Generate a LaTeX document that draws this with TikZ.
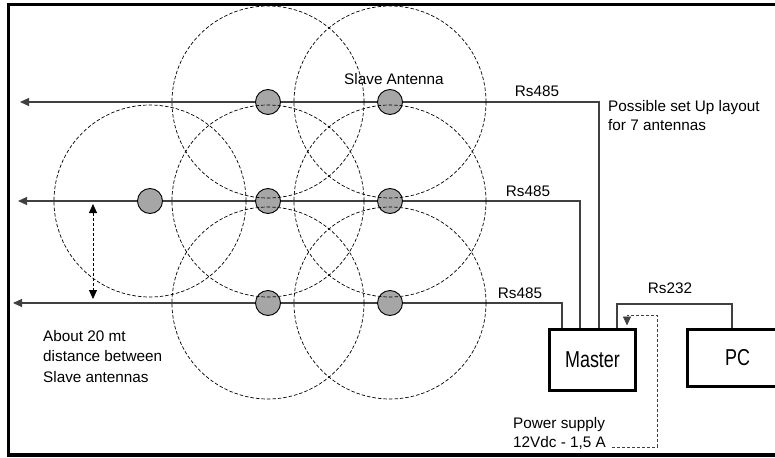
\documentclass[tikz,border=0pt]{standalone}
\usepackage{fontspec}
\setmainfont{Liberation Sans}
\newfontfamily\boxfont[FakeStretch=0.78]{Liberation Sans}
\usetikzlibrary{arrows.meta}
\definecolor{antgray}{HTML}{A6A6A6}
\definecolor{wire}{HTML}{404040}
\begin{document}
\begin{tikzpicture}[x=1pt,y=-1pt,
  antenna/.style={circle,draw=black,fill=antgray,line width=0.9pt,minimum size=25pt,inner sep=0pt},
  rangecircle/.style={draw=black,dash pattern=on 3.5pt off 2pt,line width=0.7pt},
  bus/.style={draw=wire,line width=1.1pt},
  tipend/.style={-{Triangle[length=9pt,width=8pt]}},
  tipboth/.style={{Triangle[length=9pt,width=8pt]}-{Triangle[length=9pt,width=8pt]}},
  devbox/.style={draw=black,line width=3pt,inner sep=0pt,font=\boxfont\fontsize{23}{24}\selectfont},
  lbl/.style={inner sep=0pt,font=\fontsize{15.3}{19}\selectfont},
  psline/.style={dash pattern=on 3pt off 2pt,line width=0.8pt}
]
\useasboundingbox (0,0) rectangle (775,457);
\clip (0,0) rectangle (775,457);
% frame
\draw[line width=3.5pt] (8.5,4.7) rectangle (790,455);

% antennas
\node[antenna] (a1) at (268,102) {};
\node[antenna] (a2) at (390,102) {};
\node[antenna] (a3) at (150,201) {};
\node[antenna] (a4) at (268,201) {};
\node[antenna] (a5) at (390,201) {};
\node[antenna] (a6) at (268,303) {};
\node[antenna] (a7) at (390,303) {};

% devices
\node[devbox,minimum width=86pt,minimum height=61pt] (master) at (592.5,359.5) {Master};
\node[devbox,minimum width=100pt,minimum height=57pt] (pc) at (737.5,358) {PC};

% free ends
\coordinate (e1) at (20,102);
\coordinate (e2) at (18,201);
\coordinate (e3) at (13,303);
\coordinate (d1) at (93,204);
\coordinate (d2) at (93,299);
\coordinate (ps) at (612,447);

% wires
\draw[bus,tipend] (599,0 |- master.north) |- (a2) -- (a1) -- (e1);
\draw[bus,tipend] (580,0 |- master.north) |- (a5) -- (a4) -- (a3) -- (e2);
\draw[bus,tipend] (562,0 |- master.north) |- (a7) -- (a6) -- (e3);
\draw[bus] (617,0 |- master.north) |- (732,304) -- (732,0 |- pc.north);

% range circles
\foreach \n in {a1,a2,a3,a4,a5,a6,a7}
  \draw[rangecircle] (\n.center) circle[radius=96];

% power supply
\draw[psline,draw=wire,tipend,shorten >=2pt] (ps) -| (657,315) -| (627,0 |- master.north);
% distance arrow
\draw[psline,tipboth] (d1) -- (d2);

% labels
\node[lbl,anchor=base] (t1) at (394,85) {Slave Antenna};
\node[lbl,anchor=base] (r1) at (537,97) {Rs485};
\node[lbl,anchor=base] (r2) at (528,196) {Rs485};
\node[lbl,anchor=base] (r3) at (520,298) {Rs485};
\node[lbl,anchor=base] (r4) at (670,293) {Rs232};
\node[lbl,anchor=north west,align=left] (t2) at (608,100) {Possible set Up layout\\for 7 antennas};
\node[lbl,anchor=north west,align=left,font=\fontsize{15.3}{20.5}\selectfont] (t3) at (43,330) {About 20 mt\\distance between\\Slave antennas};
\node[lbl,anchor=north west,align=left] (t4) at (513,417) {Power supply\\12Vdc - 1,5 A};
\end{tikzpicture}
\end{document}
